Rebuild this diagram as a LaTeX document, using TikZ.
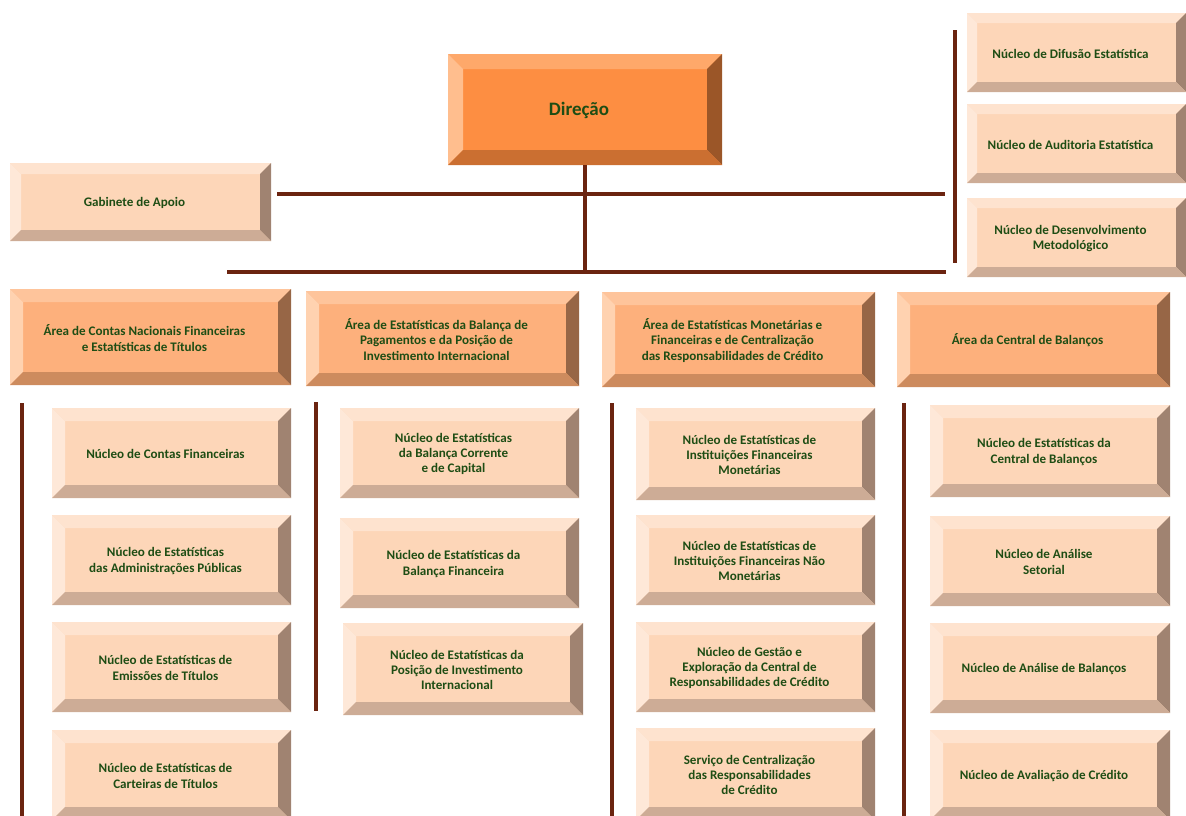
\documentclass[tikz,border=0pt]{standalone}
\usepackage{fontspec}
\setmainfont{Carlito}

\definecolor{linecol}{HTML}{6B2410}
\definecolor{txtcol}{HTML}{1E4D14}
% direcao
\definecolor{dirface}{HTML}{FD8E42}
\definecolor{dirtop}{HTML}{FEA86A}
\definecolor{dirleft}{HTML}{FFBE8E}
\definecolor{dirright}{HTML}{9B5628}
\definecolor{dirbot}{HTML}{CB6F31}
% areas
\definecolor{areaface}{HTML}{FDB07C}
\definecolor{areatop}{HTML}{FEC49B}
\definecolor{arealeft}{HTML}{FFD2B0}
\definecolor{arearight}{HTML}{976646}
\definecolor{areabot}{HTML}{CD8B5E}
% nucleos
\definecolor{nucface}{HTML}{FDD6B8}
\definecolor{nuctop}{HTML}{FEE3CF}
\definecolor{nucleft}{HTML}{FEE8D8}
\definecolor{nucright}{HTML}{A08371}
\definecolor{nucbot}{HTML}{CDAC96}

% #1 name, #2 palette, #3..#6 = x1 y1 x2 y2, #7 bevel, #8 text
\newcommand{\bevbox}[8]{%
  \fill[#2face] (#3,#4) rectangle (#5,#6);
  \fill[#2top] (#3,#4) -- (#5,#4) -- ({#5-#7},{#4+#7}) -- ({#3+#7},{#4+#7}) -- cycle;
  \fill[#2left] (#3,#4) -- ({#3+#7},{#4+#7}) -- ({#3+#7},{#6-#7}) -- (#3,#6) -- cycle;
  \fill[#2right] (#5,#4) -- (#5,#6) -- ({#5-#7},{#6-#7}) -- ({#5-#7},{#4+#7}) -- cycle;
  \fill[#2bot] (#3,#6) -- (#5,#6) -- ({#5-#7},{#6-#7}) -- ({#3+#7},{#6-#7}) -- cycle;
  \node[lbl] (#1) at ({(#3+#5)/2-6},{(#4+#6)/2+1}) {#8};
  \coordinate (#1-s) at ({(#3+#5)/2},#6);
}

\begin{document}
\begin{tikzpicture}[x=0.025cm,y=-0.025cm,
    lbl/.style={text=txtcol,align=center,font=\bfseries\fontsize{9.3}{10.8}\selectfont},
    bar/.style={draw=linecol,line width=2.2pt}]
  \clip (0,0) rectangle (1186,816);

  % top level
  \bevbox{dir}{dir}{448}{54}{722}{165}{15}{\fontsize{13.5}{15}\selectfont Direção}
  \bevbox{gab}{nuc}{10}{163}{271}{241}{11}{Gabinete de Apoio}
  \bevbox{dif}{nuc}{967}{13}{1186}{92}{10}{Núcleo de Difusão Estatística}
  \bevbox{aud}{nuc}{967}{104}{1186}{183}{10}{Núcleo de Auditoria Estatística}
  \bevbox{des}{nuc}{967}{198}{1186}{277}{10}{Núcleo de Desenvolvimento\\Metodológico}

  % areas
  \bevbox{a1}{area}{10}{289}{291}{385}{13}{Área de Contas Nacionais Financeiras\\e Estatísticas de Títulos}
  \bevbox{a2}{area}{306}{291}{579}{386}{13}{Área de Estatísticas da Balança de\\Pagamentos e da Posição de\\Investimento Internacional}
  \bevbox{a3}{area}{602}{292}{875}{387}{13}{Área de Estatísticas  Monetárias e\\Financeiras e de Centralização\\das Responsabilidades de Crédito}
  \bevbox{a4}{area}{897}{292}{1170}{387}{13}{Área da Central de Balanços}

  % nucleos, coluna 1
  \bevbox{n11}{nuc}{52}{408}{291}{498}{13}{Núcleo de Contas Financeiras}
  \bevbox{n12}{nuc}{52}{515}{291}{605}{13}{Núcleo de Estatísticas\\das Administrações Públicas}
  \bevbox{n13}{nuc}{52}{622}{291}{712}{13}{Núcleo de Estatísticas de\\Emissões  de Títulos}
  \bevbox{n14}{nuc}{52}{730}{291}{820}{13}{Núcleo de Estatísticas de\\Carteiras de Títulos}
  % coluna 2
  \bevbox{n21}{nuc}{340}{408}{579}{498}{13}{Núcleo de Estatísticas\\da Balança Corrente\\e de Capital}
  \bevbox{n22}{nuc}{340}{518}{579}{608}{13}{Núcleo de Estatísticas da\\Balança Financeira}
  \bevbox{n23}{nuc}{343}{623}{583}{715}{13}{Núcleo de Estatísticas da\\Posição de Investimento\\Internacional}
  % coluna 3
  \bevbox{n31}{nuc}{636}{408}{875}{500}{13}{Núcleo de Estatísticas de\\Instituições Financeiras\\Monetárias}
  \bevbox{n32}{nuc}{636}{515}{875}{605}{13}{Núcleo de Estatísticas de\\Instituições Financeiras Não\\Monetárias}
  \bevbox{n33}{nuc}{636}{622}{875}{712}{13}{Núcleo de Gestão e\\Exploração da Central de\\Responsabilidades de Crédito}
  \bevbox{n34}{nuc}{636}{728}{875}{820}{13}{Serviço  de Centralização\\das Responsabilidades\\de  Crédito}
  % coluna 4
  \bevbox{n41}{nuc}{930}{405}{1170}{497}{13}{Núcleo de Estatísticas da\\Central de Balanços}
  \bevbox{n42}{nuc}{930}{516}{1170}{606}{13}{Núcleo de Análise\\Setorial}
  \bevbox{n43}{nuc}{930}{623}{1170}{713}{13}{Núcleo de Análise de Balanços}
  \bevbox{n44}{nuc}{930}{730}{1170}{820}{13}{Núcleo  de Avaliação de Crédito}

  % linhas
  \coordinate (ub-w) at (277,194);
  \coordinate (ub-e) at (945,194);
  \coordinate (lb-w) at (227,272);
  \coordinate (lb-e) at (946,272);
  \coordinate (rv-n) at (955,30);
  \coordinate (rv-s) at (955,263);
  \draw[bar] (ub-w) -- (ub-e);
  \draw[bar] (lb-w) -- (lb-e);
  \draw[bar] (dir-s) -- (dir-s |- lb-w);
  \draw[bar] (rv-n) -- (rv-s);
  \foreach \x/\ya/\yb in {22/403/820, 316/402/711, 612/403/820, 904/403/820}
    \draw[bar] (\x,\ya) -- (\x,\yb);
\end{tikzpicture}
\end{document}
